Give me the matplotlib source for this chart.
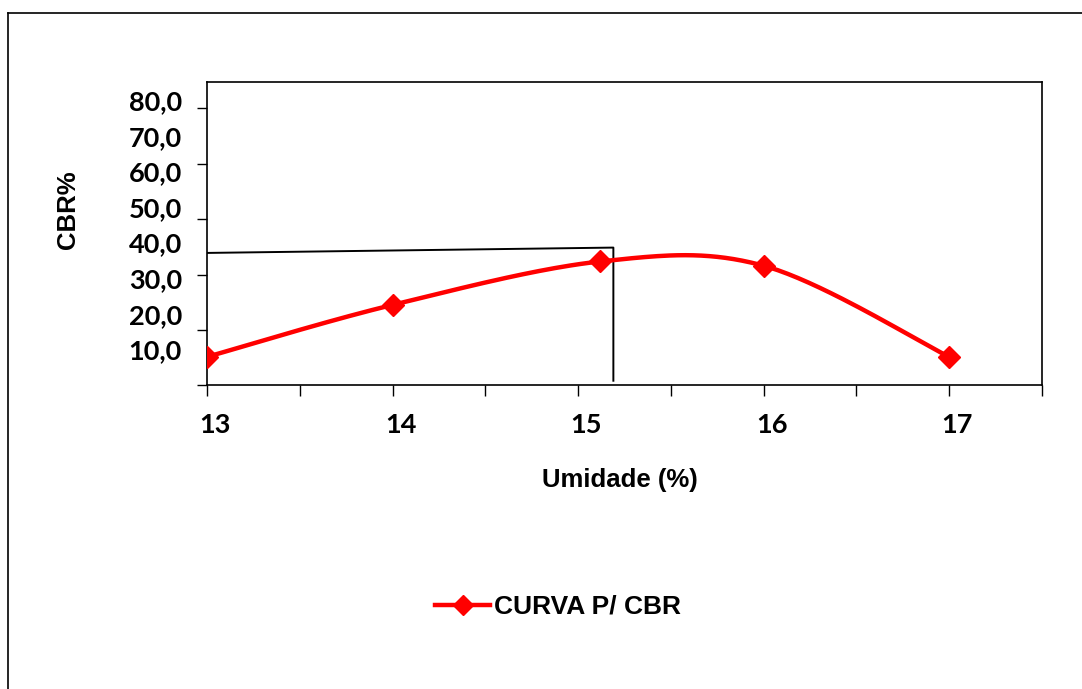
import numpy as np
import matplotlib
matplotlib.use("Agg")
import matplotlib.pyplot as plt
from matplotlib.lines import Line2D
from matplotlib.transforms import ScaledTranslation

# dados (umidade x CBR)
umidade = [13.0, 14.0, 15.12, 16.0, 17.0]
cbr = [7.9, 22.5, 34.7, 33.5, 7.9]
serie_nome = "CURVA P/ CBR"

# linhas de leitura (umidade otima)
guia_x = [13.0, 15.19, 15.19]
guia_y = [37.1, 38.6, 1.2]

x_ticks = [13, 14, 15, 16, 17]
y_labels = [10, 20, 30, 40, 50, 60, 70, 80]
y_label_txt = ["10,0", "20,0", "30,0", "40,0", "50,0", "60,0", "70,0", "80,0"]
y_marks = [0, 15.5, 31.0, 46.5, 62.0, 77.8]


def suaviza(xs, ys, n=40):
    # curva suavizada estilo Excel (Bezier com pontos de controle Catmull-Rom)
    p = np.column_stack([xs, ys])
    pts = [p[0]] + list(p) + [p[-1]]
    out = []
    t = np.linspace(0, 1, n)[:, None]
    for i in range(1, len(pts) - 2):
        p0, p1, p2, p3 = pts[i - 1], pts[i], pts[i + 1], pts[i + 2]
        c1 = p1 + (p2 - p0) / 6
        c2 = p2 - (p3 - p1) / 6
        seg = ((1 - t) ** 3) * p1 + 3 * ((1 - t) ** 2) * t * c1 + 3 * (1 - t) * t ** 2 * c2 + t ** 3 * p2
        out.append(seg)
    out = np.vstack(out)
    return out[:, 0], out[:, 1]


W, H = 1082, 689
fig = plt.figure(figsize=(W / 100, H / 100), dpi=100)
ax = fig.add_axes([207 / W, (H - 385) / H, (1042 - 207) / W, (385 - 81.7) / H])

sx, sy = suaviza(umidade, cbr)
ax.plot(sx, sy, color="#ff0000", lw=3.2, solid_capstyle="round", zorder=3)
ax.plot(umidade, cbr, "D", color="#ff0000", ms=11, zorder=4)
ax.plot(guia_x, guia_y, color="black", lw=1.4, zorder=2)

ax.set_xlim(13, 17.5)
ax.set_ylim(0, 85.2)

tick_font = dict(family=["Lato", "DejaVu Sans"], weight="bold", size=19.5)

ax.set_xticks(x_ticks)
ax.set_xticks(np.arange(13.5, 17.6, 1.0), minor=True)
ax.set_xticklabels([str(v) for v in x_ticks], fontdict=tick_font)
ax.tick_params(axis="x", which="both", direction="out", length=8, width=1, pad=12)
off = ScaledTranslation(8 / 100, 0, fig.dpi_scale_trans)
for lab in ax.get_xticklabels():
    lab.set_transform(lab.get_transform() + off)

ax.set_yticks(y_labels)
ax.set_yticklabels(y_label_txt, fontdict=tick_font)
ax.set_yticks(y_marks, minor=True)
ax.tick_params(axis="y", which="major", length=0, pad=18)
ax.tick_params(axis="y", which="minor", direction="out", length=7, width=1)

for s in ax.spines.values():
    s.set_linewidth(1.2)
    s.set_color("black")

lab_font = dict(family=["Liberation Sans", "DejaVu Sans"], weight="bold", size=18.5)
fig.text(68 / W, 1 - 210 / H, "CBR%", rotation=90, ha="center", va="center", **lab_font)
fig.text(620 / W, 1 - 480 / H, "Umidade (%)", ha="center", va="center", **lab_font)

handle = Line2D([], [], color="#ff0000", lw=3.2, marker="D", ms=10)
fig.legend([handle], [serie_nome], loc="center", bbox_to_anchor=(558 / W, 1 - 607 / H),
           frameon=False, handlelength=2.1, handletextpad=0.15,
           prop=dict(family=["Liberation Sans", "DejaVu Sans"], weight="bold", size=19))

# moldura externa
fig.add_artist(Line2D([8 / W, 1], [1 - 13 / H, 1 - 13 / H], transform=fig.transFigure, color="black", lw=1.2))
fig.add_artist(Line2D([8 / W, 8 / W], [0, 1 - 13 / H], transform=fig.transFigure, color="black", lw=1.2))

fig.savefig("out.png", dpi=100)
